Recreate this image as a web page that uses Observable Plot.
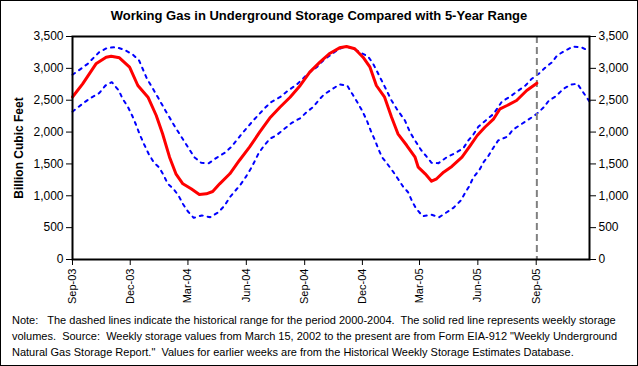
<!DOCTYPE html>
<html>
<head>
<meta charset="utf-8">
<script src="https://cdn.jsdelivr.net/npm/d3@7"></script>
<script src="https://cdn.jsdelivr.net/npm/@observablehq/plot@0.6"></script>
<style>
body{margin:0;background:#fff;}
#wrap{position:relative;width:638px;height:366px;background:#fff;font-family:Arial,"Liberation Sans",sans-serif;overflow:hidden;color:#000}
#border{position:absolute;left:0;top:0;width:638px;height:366px;box-sizing:border-box;border:1px solid #000;pointer-events:none}
#title{position:absolute;top:8px;left:0;width:638px;text-align:center;font-weight:bold;font-size:13px;line-height:16px}
#chart{position:absolute;top:28px;left:0}
#note{position:absolute;left:12px;top:312px;font-size:11px;line-height:16px;white-space:pre}
</style>
</head>
<body>
<div id="wrap">
  <div id="title">Working Gas in Underground Storage Compared with 5-Year Range</div>
  <div id="chart"></div>
  <div id="note"></div>
  <div id="border"></div>
</div>
<script>
const titleText = "Working Gas in Underground Storage Compared with 5-Year Range";
const yLabel = "Billion Cubic Feet";
const noteLines = [
  "Note:   The dashed lines indicate the historical range for the period 2000-2004.  The solid red line represents weekly storage",
  "volumes.  Source:  Weekly storage values from March 15, 2002 to the present are from Form EIA-912 \"Weekly Underground",
  "Natural Gas Storage Report.\"  Values for earlier weeks are from the Historical Weekly Storage Estimates Database."
];

const xDomain = ["2003-09-01", "2005-11-24"];
const xTicks = ["2003-09-01","2003-12-01","2004-03-01","2004-06-01","2004-09-01","2004-12-01","2005-03-01","2005-06-01","2005-09-01"];
const yTicks = [0, 500, 1000, 1500, 2000, 2500, 3000, 3500];
const lastWeek = "2005-09-02";

// Weekly storage (red)
const storageDates = ["2003-09-01","2003-09-17","2003-10-08","2003-10-24","2003-11-01","2003-11-14","2003-11-30","2003-12-13","2003-12-29",
  "2004-01-11","2004-01-21","2004-02-01","2004-02-11","2004-02-22","2004-03-06","2004-03-19","2004-03-30","2004-04-09","2004-04-20","2004-05-06","2004-05-21","2004-06-06","2004-06-22","2004-07-08","2004-07-24","2004-08-09","2004-08-25","2004-09-09","2004-09-25","2004-10-11","2004-10-26","2004-11-06","2004-11-19","2004-12-02","2004-12-13","2004-12-23",
  "2005-01-05","2005-01-16","2005-01-26","2005-02-09","2005-02-22","2005-02-27","2005-03-10","2005-03-20","2005-03-28","2005-04-08","2005-04-21","2005-05-07","2005-05-20","2005-05-31","2005-06-12","2005-06-26","2005-07-06","2005-07-17","2005-08-01","2005-08-17","2005-09-02"];
const storageValues = [2550,2757,3071,3175,3190,3165,3018,2731,2547,
  2260,1973,1606,1345,1188,1110,1020,1031,1067,1188,1345,1554,1763,1998,2220,2390,2547,2731,2940,3097,3238,3322,3343,3307,3175,3018,2731,
  2547,2233,1973,1789,1606,1449,1345,1229,1267,1370,1460,1606,1789,1946,2076,2208,2365,2417,2495,2652,2767];

// 5-year range maximum (blue dashed, upper)
const maxDates = ["2003-09-01","2003-09-12","2003-09-25","2003-10-13","2003-10-26","2003-11-09","2003-11-22","2003-12-05","2003-12-15","2003-12-27",
  "2004-01-12","2004-01-27","2004-02-10","2004-02-25","2004-03-11","2004-03-22","2004-04-03","2004-04-15","2004-04-28","2004-05-08","2004-05-27","2004-06-11","2004-06-30","2004-07-10","2004-07-24","2004-08-06","2004-08-19","2004-08-30","2004-09-09","2004-09-20","2004-10-03","2004-10-13","2004-10-24","2004-11-03","2004-11-14","2004-11-27","2004-12-10","2004-12-18","2004-12-26",
  "2005-01-03","2005-01-16","2005-01-24","2005-02-06","2005-02-14","2005-02-22","2005-03-04","2005-03-12","2005-03-20","2005-03-31","2005-04-13","2005-04-26","2005-05-09","2005-05-17","2005-05-25","2005-06-02","2005-06-12","2005-06-26","2005-07-09","2005-07-22","2005-08-04","2005-08-15","2005-08-25","2005-09-05","2005-09-15","2005-09-26","2005-10-04","2005-10-15","2005-10-29","2005-11-11","2005-11-24"];
const maxValues = [2900,2977,3071,3254,3322,3332,3291,3217,3123,2846,
  2574,2312,2076,1841,1606,1517,1512,1596,1674,1763,1998,2171,2375,2469,2547,2652,2742,2846,2940,3018,3150,3217,3296,3343,3322,3254,3186,3071,2915,
  2757,2495,2365,2182,1998,1868,1711,1617,1517,1512,1606,1668,1745,1868,1962,2087,2171,2287,2480,2558,2652,2731,2836,2915,3009,3097,3202,3269,3343,3332,3269];

// 5-year range minimum (blue dashed, lower)
const minDates = ["2003-09-01","2003-09-20","2003-09-29","2003-10-13","2003-10-23","2003-11-02","2003-11-13","2003-11-19","2003-11-27","2003-12-04","2003-12-10","2003-12-16","2003-12-23","2003-12-30",
  "2004-01-07","2004-01-16","2004-01-23","2004-01-29","2004-02-07","2004-02-15","2004-02-22","2004-03-01","2004-03-10","2004-03-23","2004-04-05","2004-04-18","2004-04-28","2004-05-06","2004-05-15","2004-05-23","2004-05-31","2004-06-08","2004-06-14","2004-06-20","2004-06-28","2004-07-08","2004-07-18","2004-07-31","2004-08-11","2004-08-25","2004-09-04","2004-09-14","2004-09-24","2004-10-01","2004-10-15","2004-10-26","2004-11-07","2004-11-15","2004-11-23","2004-12-01","2004-12-08","2004-12-14","2004-12-21","2004-12-26",
  "2005-01-01","2005-01-10","2005-01-19","2005-01-26","2005-02-03","2005-02-11","2005-02-18","2005-02-24","2005-03-06","2005-03-20","2005-04-01","2005-04-13","2005-04-24","2005-05-05","2005-05-12","2005-05-19","2005-05-25","2005-06-03","2005-06-10","2005-06-18","2005-06-26","2005-07-03","2005-07-18","2005-07-26","2005-08-07","2005-08-20","2005-09-02","2005-09-13","2005-09-21","2005-10-02","2005-10-14","2005-10-26","2005-11-05","2005-11-15","2005-11-24"];
const minValues = [2320,2469,2532,2610,2731,2783,2652,2522,2401,2260,2119,1962,1805,1659,
  1527,1439,1318,1188,1110,1004,874,753,654,691,664,742,848,978,1083,1177,1292,1424,1538,1659,1774,1894,1946,2051,2139,2218,2312,2390,2511,2585,2679,2747,2731,2600,2469,2328,2182,2025,1868,1737,
  1606,1491,1370,1267,1146,1056,899,796,680,702,664,742,815,926,1047,1161,1292,1397,1527,1632,1763,1868,1930,2035,2114,2197,2287,2390,2495,2563,2679,2747,2757,2610,2480];

const toRows = (dates, values) => dates.map((d, i) => ({date: new Date(d), value: values[i]}));
const storage = toRows(storageDates, storageValues);
const rangeMax = toRows(maxDates, maxValues);
const rangeMin = toRows(minDates, minValues);

document.getElementById("title").textContent = titleText;
document.getElementById("note").textContent = noteLines.join("\n");

const fmt = d3.format(",");
const chart = Plot.plot({
  width: 638,
  height: 277,
  marginLeft: 72,
  marginRight: 49,
  marginTop: 8,
  marginBottom: 46,
  style: {fontFamily: "Arial, 'Liberation Sans', sans-serif", fontSize: "12px", color: "#000", background: "#fff", overflow: "visible"},
  x: {type: "utc", domain: xDomain.map(d => new Date(d))},
  y: {domain: [0, 3500]},
  marks: [
    Plot.lineY(rangeMax, {x: "date", y: "value", stroke: "#0000ff", strokeWidth: 2, strokeDasharray: "3,5"}),
    Plot.lineY(rangeMin, {x: "date", y: "value", stroke: "#0000ff", strokeWidth: 2, strokeDasharray: "3,5"}),
    Plot.ruleX([new Date(lastWeek)], {stroke: "#808080", strokeWidth: 2, strokeDasharray: "7,4"}),
    Plot.lineY(storage, {x: "date", y: "value", stroke: "#ff0000", strokeWidth: 3}),
    Plot.axisY({ticks: yTicks, tickFormat: fmt, tickSize: 6, label: yLabel, labelAnchor: "center", labelArrow: "none", labelOffset: 58}),
    Plot.axisY({anchor: "right", ticks: yTicks, tickFormat: fmt, tickSize: 6, label: null}),
    Plot.axisX({ticks: xTicks.map(d => new Date(d)), tickFormat: d3.utcFormat("%b-%y"), tickRotate: -90, tickSize: 6, label: null, fontSize: 11}),
    Plot.frame({stroke: "#000", strokeWidth: 2})
  ]
});
document.getElementById("chart").appendChild(chart);
d3.select(chart).selectAll('g[aria-label="y-axis label"] text').attr("font-weight", "bold");
</script>
</body>
</html>
